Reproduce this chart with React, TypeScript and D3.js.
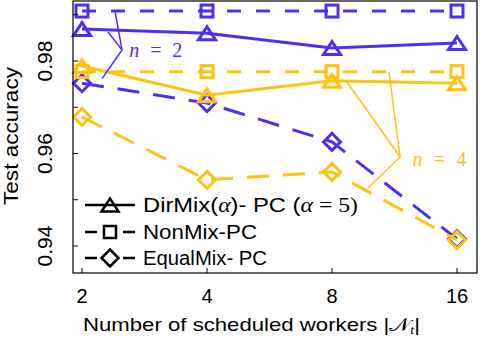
import React from 'react';
import * as d3 from 'd3';

// scheduled workers (x) and test accuracy
const workers = [2, 4, 8, 16];

const dirMixN2 = [0.9869, 0.986, 0.9828, 0.9839];
const nonMixN2 = [0.9908, 0.9908, 0.9908, 0.9908];
const equalMixN2 = [0.9752, 0.9709, 0.9625, 0.9415];

const dirMixN4 = [0.9789, 0.9726, 0.9757, 0.9752];
const nonMixN4 = [0.9777, 0.9777, 0.9777, 0.9777];
const equalMixN4 = [0.9679, 0.9543, 0.956, 0.9413];

const yTicks = [0.94, 0.95, 0.96, 0.97, 0.98, 0.99];
const yTickLabels = ['0.94', '', '0.96', '', '0.98', ''];

const legendNames = ['DirMix', 'NonMix-PC', 'EqualMix- PC'];

// leader lines for the n labels, in data units [workers, accuracy]
const n2Leader: [number, number][][] = [
  [[2.497, 0.98238], [2.401, 0.9908]],
  [[2.497, 0.98238], [2.31, 0.98627]],
  [[2.497, 0.98238], [2.235, 0.9762]],
];
const n4Leader: [number, number][][] = [
  [[11.67, 0.95924], [8.69, 0.97546]],
  [[11.67, 0.95924], [10.97, 0.97762]],
  [[11.67, 0.95924], [9.77, 0.95254]],
];

const BLUE = '#4b30f2';
const GOLD = '#ffc20e';

const W = 480;
const H = 338;
const P = { left: 73, right: 477, top: 1, bottom: 273 };

const x = d3.scaleLog().base(2).domain([2 ** 0.928, 2 ** 4.16]).range([P.left, P.right]);
const y = d3.scaleLinear().domain([0.93416, 0.99297]).range([P.bottom, P.top]);

type Kind = 'tri' | 'sq' | 'dia';

const series = [
  { vals: nonMixN2, color: BLUE, kind: 'sq' as Kind, dash: '14,15' },
  { vals: equalMixN2, color: BLUE, kind: 'dia' as Kind, dash: '22,14' },
  { vals: dirMixN2, color: BLUE, kind: 'tri' as Kind, dash: null },
  { vals: nonMixN4, color: GOLD, kind: 'sq' as Kind, dash: '14,15' },
  { vals: equalMixN4, color: GOLD, kind: 'dia' as Kind, dash: '22,14' },
  { vals: dirMixN4, color: GOLD, kind: 'tri' as Kind, dash: null },
];

const line = d3.line<[number, number]>().x(d => x(d[0])).y(d => y(d[1]));

function Marker({ kind, cx, cy, color, sw = 3 }: { kind: Kind; cx: number; cy: number; color: string; sw?: number }) {
  if (kind === 'tri') {
    const pts = [[cx - 8.5, cy + 6.5], [cx + 8.5, cy + 6.5], [cx, cy - 6.5]].map(p => p.join(',')).join(' ');
    return <polygon points={pts} fill="none" stroke={color} strokeWidth={sw} strokeLinejoin="miter" />;
  }
  if (kind === 'sq') {
    return <rect x={cx - 6} y={cy - 6} width={12} height={12} fill="none" stroke={color} strokeWidth={sw} />;
  }
  const pts = [[cx, cy - 8.5], [cx + 8.5, cy], [cx, cy + 8.5], [cx - 8.5, cy]].map(p => p.join(',')).join(' ');
  return <polygon points={pts} fill="none" stroke={color} strokeWidth={sw} />;
}

const sans = "'Liberation Sans', Arial, Helvetica, sans-serif";
const serif = "'Liberation Serif', 'DejaVu Serif', serif";

export default function App() {
  const legendRows = [205, 232, 258];
  return (
    <svg width={W} height={H} style={{ position: 'absolute', left: 0, top: 0, background: '#fff' }} fontFamily={sans}>
      <rect x={0} y={0} width={W} height={H} fill="#fff" />

      {/* series */}
      {series.map((s, i) => {
        const pts = workers.map((w, j) => [w, s.vals[j]] as [number, number]);
        return (
          <g key={i}>
            <path d={line(pts) || ''} fill="none" stroke={s.color} strokeWidth={3}
              strokeDasharray={s.dash || undefined} />
            {pts.map((p, j) => (
              <Marker key={j} kind={s.kind} cx={x(p[0])} cy={y(p[1])} color={s.color} />
            ))}
          </g>
        );
      })}

      {/* annotations */}
      {n2Leader.map((seg, i) => (
        <path key={'a' + i} d={line(seg) || ''} stroke={BLUE} strokeWidth={1.5} fill="none" />
      ))}
      {n4Leader.map((seg, i) => (
        <path key={'b' + i} d={line(seg) || ''} stroke={GOLD} strokeWidth={1.5} fill="none" />
      ))}
      <text x={x(2.6)} y={y(0.98083)} fontFamily={serif} fontSize={20} fill={BLUE} textLength={53} lengthAdjust="spacing">
        <tspan fontStyle="italic">n</tspan> = 2
      </text>
      <text x={x(12.5)} y={y(0.95730)} fontFamily={serif} fontSize={20} fill={GOLD} textLength={54} lengthAdjust="spacing">
        <tspan fontStyle="italic">n</tspan> = 4
      </text>

      {/* legend */}
      {legendRows.map((ly, i) => {
        const kind: Kind = i === 0 ? 'tri' : i === 1 ? 'sq' : 'dia';
        return (
          <g key={'l' + i}>
            <line x1={85} x2={135} y1={ly} y2={ly} stroke="#000" strokeWidth={2.5}
              strokeDasharray={i === 0 ? undefined : '12,26'} />
            <Marker kind={kind} cx={110} cy={ly} color="#000" sw={2.5} />
          </g>
        );
      })}
      <text x={143} y={legendRows[0] + 7} fontSize={20} textLength={215} lengthAdjust="spacingAndGlyphs">
        {legendNames[0]}(<tspan fontFamily={serif} fontStyle="italic">α</tspan>)- PC (<tspan fontFamily={serif} fontStyle="italic">α</tspan><tspan fontFamily={serif}> = 5)</tspan>
      </text>
      <text x={143} y={legendRows[1] + 7} fontSize={20} textLength={114} lengthAdjust="spacingAndGlyphs">{legendNames[1]}</text>
      <text x={143} y={legendRows[2] + 7} fontSize={20} textLength={124} lengthAdjust="spacingAndGlyphs">{legendNames[2]}</text>

      {/* frame */}
      <rect x={P.left} y={P.top} width={P.right - P.left} height={P.bottom - P.top} fill="none" stroke="#000" strokeWidth={1.2} />

      {/* x ticks */}
      {workers.map(w => (
        <g key={'x' + w}>
          <line x1={x(w)} x2={x(w)} y1={P.bottom} y2={P.bottom - 5} stroke="#000" strokeWidth={1} />
          <text x={x(w)} y={303} textAnchor="middle" fontSize={20}>{w}</text>
        </g>
      ))}

      {/* y ticks */}
      {yTicks.map((t, i) => (
        <g key={'y' + i}>
          <line x1={P.left} x2={P.left + 5} y1={y(t)} y2={y(t)} stroke="#000" strokeWidth={1} />
          {yTickLabels[i] && (
            <text transform={`translate(52,${y(t)}) rotate(-90)`} textAnchor="middle" fontSize={21}>{yTickLabels[i]}</text>
          )}
        </g>
      ))}

      {/* axis titles */}
      <text x={83} y={331} fontSize={19} textLength={337} lengthAdjust="spacingAndGlyphs">
        Number of scheduled workers |<tspan fontFamily={serif}>𝒩</tspan><tspan fontFamily={serif} fontStyle="italic" fontSize={12} dy={3}>t</tspan><tspan dy={-3}>|</tspan>
      </text>
      <text transform="translate(18,136) rotate(-90)" textAnchor="middle" fontSize={20} textLength={138} lengthAdjust="spacingAndGlyphs">
        Test accuracy
      </text>
    </svg>
  );
}
